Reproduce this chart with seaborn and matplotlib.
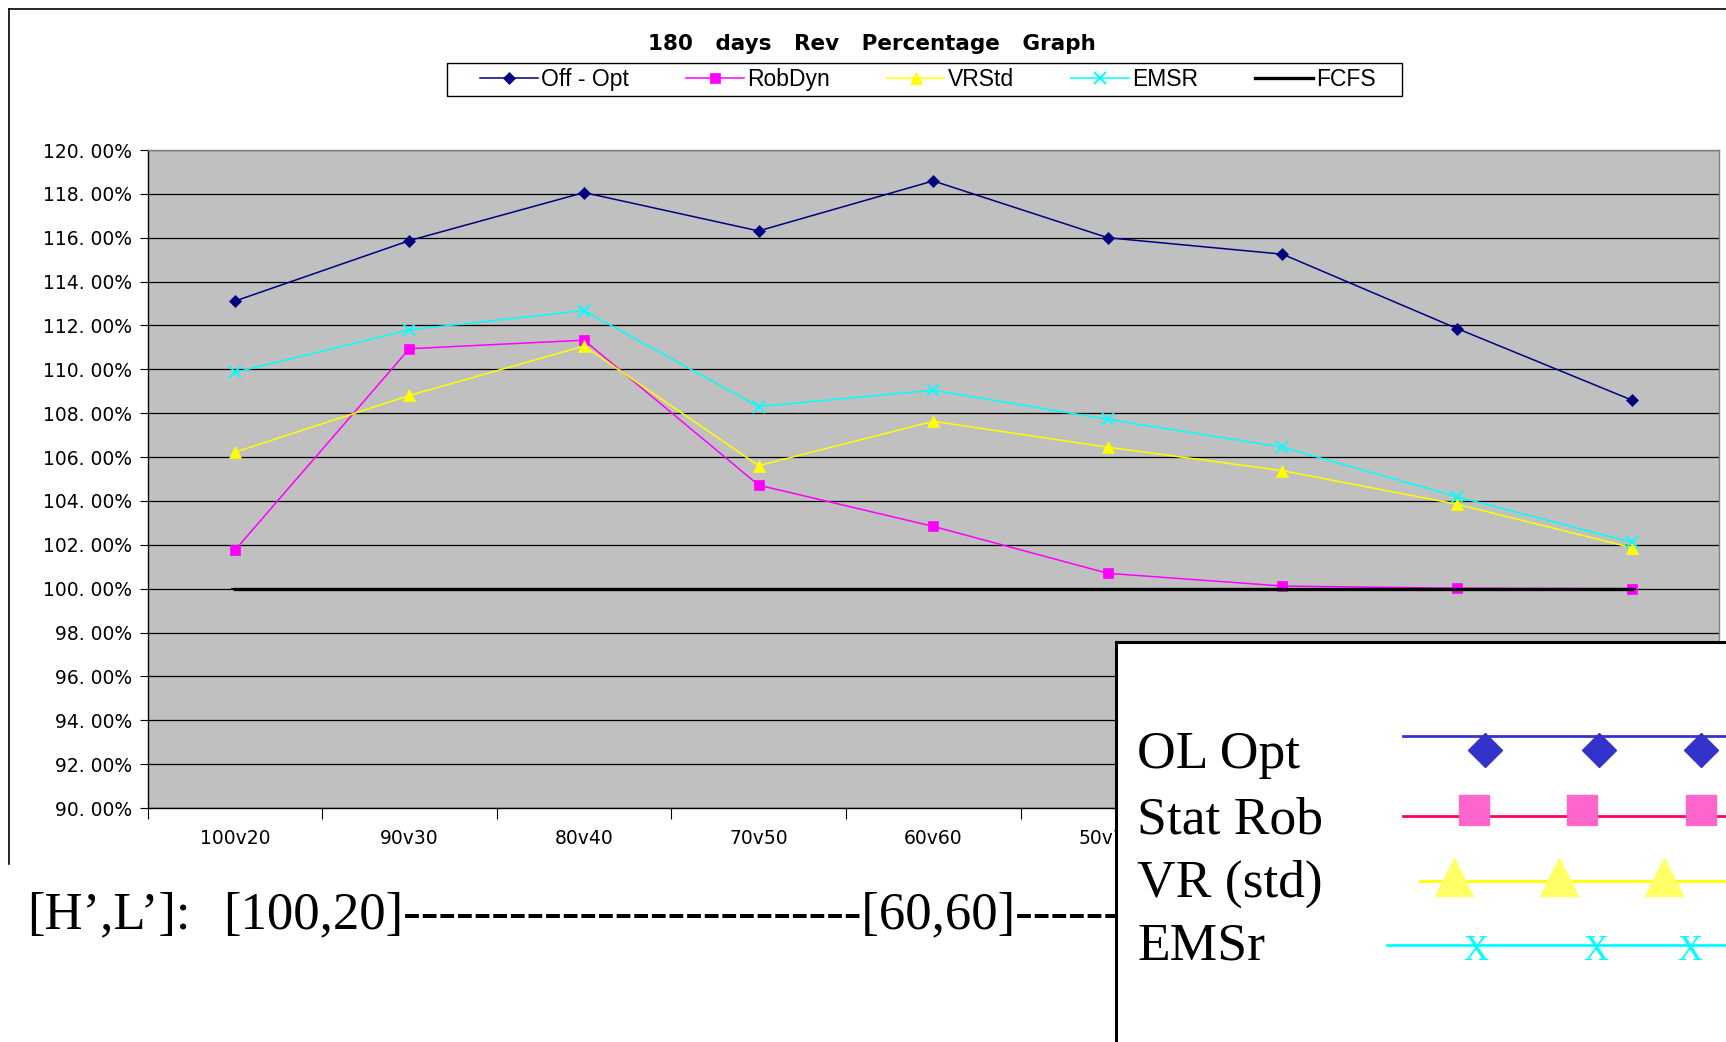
import matplotlib
matplotlib.use("Agg")
import matplotlib.pyplot as plt
import seaborn as sns
import pandas as pd
from matplotlib.lines import Line2D
from matplotlib.patches import Rectangle

# ---------------- data ----------------
categories = ["100v20", "90v30", "80v40", "70v50", "60v60", "50v70", "40v80", "30v90", "20v100"]
off_opt = [113.11, 115.87, 118.06, 116.31, 118.59, 116.00, 115.25, 111.86, 108.60]
rob_dyn = [101.75, 110.94, 111.33, 104.72, 102.84, 100.70, 100.12, 100.02, 100.00]
vr_std = [106.22, 108.81, 111.06, 105.61, 107.63, 106.45, 105.38, 103.85, 101.87]
emsr = [109.86, 111.80, 112.68, 108.30, 109.05, 107.72, 106.45, 104.19, 102.12]
fcfs = [100.00, 100.00, 100.00, 100.00, 100.00, 100.00, 100.00, 100.00, 100.00]
series_labels = ["Off - Opt", "RobDyn", "VRStd", "EMSR", "FCFS"]
y_ticks = [90, 92, 94, 96, 98, 100, 102, 104, 106, 108, 110, 112, 114, 116, 118, 120]
y_tick_labels = ["90. 00%", "92. 00%", "94. 00%", "96. 00%", "98. 00%", "100. 00%",
                 "102. 00%", "104. 00%", "106. 00%", "108. 00%", "110. 00%", "112. 00%",
                 "114. 00%", "116. 00%", "118. 00%", "120. 00%"]
title = "180   days   Rev   Percentage   Graph"
overlay_labels = ["OL Opt", "Stat Rob", "VR (std)", "EMSr"]
bottom_prefix = "[H\u2019,L\u2019]:"
bottom_range = "[100,20]" + "-" * 26 + "[60,60]" + "-" * 7

W, H = 1726, 1042
fig = plt.figure(figsize=(W / 100, H / 100), dpi=100)
fig.patch.set_facecolor("white")

def fx(px):
    return px / W

def fy(py):
    return 1 - py / H

ax_left, ax_right, ax_top, ax_bot = 147.5, 1719, 150, 808
ax = fig.add_axes([fx(ax_left), fy(ax_bot), (ax_right - ax_left) / W, (ax_bot - ax_top) / H])
ax.set_facecolor("#C0C0C0")

xidx = list(range(len(categories)))
styles = [
    (off_opt, "#000080", "D", 6.3, 1.1),
    (rob_dyn, "#FF00FF", "s", 7.0, 1.1),
    (vr_std, "#FFFF00", "^", 9.0, 1.1),
    (emsr, "#00FFFF", "x", 8.0, 1.1),
    (fcfs, "#000000", "_", 6, 2.4),
]
for (vals, color, marker, ms, lw), lab in zip(styles, series_labels):
    df = pd.DataFrame({"x": xidx, "y": vals})
    sns.lineplot(data=df, x="x", y="y", ax=ax, color=color, marker=marker, markersize=ms,
                 markeredgecolor=color, markerfacecolor=color,
                 markeredgewidth=1.4 if marker in ("x", "_") else 0.5,
                 linewidth=lw, label=lab, errorbar=None, legend=False)

ax.set_xlim(-0.5, len(categories) - 0.5)
ax.set_ylim(90, 120)
ax.set_yticks(y_ticks)
ax.set_yticklabels(y_tick_labels, fontsize=13.5, family="DejaVu Sans")
ax.set_xticks(xidx)
ax.set_xticklabels(categories, fontsize=13.5, family="DejaVu Sans")
ax.set_xticks([i - 0.5 for i in range(len(categories) + 1)], minor=True)
ax.tick_params(axis="x", which="major", length=0, pad=15)
ax.tick_params(axis="x", which="minor", length=8, width=0.8, direction="out")
ax.tick_params(axis="y", which="major", length=6, width=0.8, direction="out", pad=5)
ax.set_xlabel("")
ax.set_ylabel("")
ax.yaxis.grid(True, color="black", linewidth=0.9)
ax.xaxis.grid(False)
ax.set_axisbelow(True)
for s in ("top", "right"):
    ax.spines[s].set_color("#808080")
    ax.spines[s].set_linewidth(1.0)
for s in ("left", "bottom"):
    ax.spines[s].set_color("black")
    ax.spines[s].set_linewidth(1.0)

# title & legend
fig.text(fx(872), fy(44), title, ha="center", va="center", fontsize=15.5,
         fontweight="bold", family="DejaVu Sans")
handles, labels = ax.get_legend_handles_labels()
leg = fig.legend(handles, labels, loc="center", bbox_to_anchor=(fx(928), fy(79.5)),
                 ncol=5, frameon=False,
                 prop={"family": "Liberation Sans", "size": 16.5},
                 handlelength=2.5, handletextpad=0.15, columnspacing=2.5,
                 borderpad=0.1, borderaxespad=0)
fig.add_artist(Rectangle((fx(447), fy(96)), fx(1402 - 447), (96 - 63) / H,
                         transform=fig.transFigure, facecolor="none",
                         edgecolor="black", lw=1.0))

# outer frame
fig.add_artist(Line2D([fx(9), fx(9)], [fy(9), fy(864)], color="black", lw=1.2,
                      transform=fig.transFigure))
fig.add_artist(Line2D([fx(9), fx(W + 5)], [fy(9), fy(9)], color="black", lw=1.2,
                      transform=fig.transFigure))

# bottom annotation text
fig.text(fx(27), fy(928), bottom_prefix, ha="left", va="baseline", fontsize=38,
         family="Liberation Serif", zorder=5)
fig.text(fx(223), fy(928), bottom_range, ha="left", va="baseline", fontsize=38,
         family="Liberation Serif", zorder=5)

# overlay white box
box = Rectangle((fx(1116), fy(H + 20)), fx(W + 40 - 1116), (H + 20 - 642) / H,
                transform=fig.transFigure, facecolor="white", edgecolor="black",
                lw=2.2, zorder=20)
fig.add_artist(box)

baselines = [768, 833, 897, 960]
for lab, b in zip(overlay_labels, baselines):
    fig.text(fx(1137), fy(b), lab, ha="left", va="baseline", fontsize=38.5,
             family="Liberation Serif", zorder=30)

def deco_line(x0, y, color):
    fig.add_artist(Line2D([fx(x0), fx(W + 5)], [fy(y), fy(y)], color=color, lw=2,
                          transform=fig.transFigure, zorder=25))

def deco_marks(xs, y, color, marker, ms):
    fig.add_artist(Line2D([fx(v) for v in xs], [fy(y)] * len(xs), color=color, lw=0,
                          marker=marker, markersize=ms, markerfacecolor=color,
                          markeredgecolor=color, transform=fig.transFigure, zorder=26))

deco_line(1403, 736, "#3333CC")
deco_marks([1485, 1599, 1701], 750, "#3333CC", "D", 17.5)
deco_line(1403, 816, "#FF0066")
deco_marks([1474, 1582, 1701], 810, "#FF66CC", "s", 21)
deco_line(1420, 881, "#FFFF00")
deco_marks([1454, 1559, 1664], 877, "#FFFF66", "^", 27)
deco_line(1387, 944.5, "#00FFFF")
for xv in [1476, 1596, 1690]:
    fig.text(fx(xv), fy(960), "X", ha="center", va="baseline", fontsize=25,
             family="Liberation Serif", color="#00FFFF", zorder=27)

fig.savefig("out.png", dpi=100)
